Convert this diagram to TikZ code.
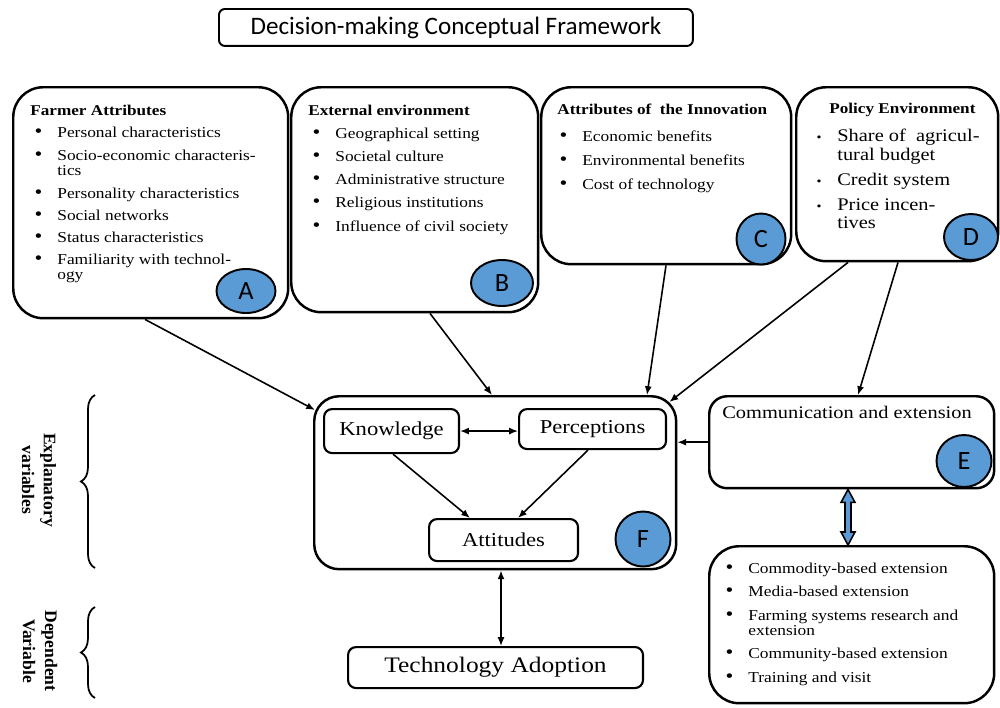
\documentclass[tikz,border=0pt]{standalone}
\usepackage{fontspec}
\setmainfont{Liberation Serif}[FakeStretch=1.15]
\newfontfamily\plainserif{Liberation Serif}
\newfontfamily\sanstitle{Carlito}
\usepackage{tikz}
\usepackage{xcolor}
\usetikzlibrary{shapes.geometric, arrows.meta, positioning, calc, decorations.pathreplacing}
\definecolor{badgeblue}{HTML}{5B9BD5}

\tikzset{
  panel/.style={draw, line width=1.4pt, rounded corners=0.6cm, inner sep=0pt, anchor=north west},
  innerbox/.style={draw, line width=1.2pt, rounded corners=0.16cm, inner sep=0pt, anchor=north west, font=\fontsize{11.2}{13}\selectfont},
  badge/.style={ellipse, draw, line width=1.1pt, fill=badgeblue, inner sep=0pt, font=\sanstitle\fontsize{15}{15}\selectfont},
  heading/.style={anchor=base west, inner sep=0pt, font=\bfseries\fontsize{8.5}{10}\selectfont},
  itemtext/.style={anchor=base west, inner sep=0pt, font=\fontsize{8.6}{10}\selectfont},
  bigitem/.style={anchor=base west, inner sep=0pt, font=\fontsize{10.1}{12}\selectfont},
  link/.style={-{Latex[length=5pt,width=4pt]}, line width=0.9pt},
  twoway/.style={{Latex[length=5pt,width=4pt]}-{Latex[length=5pt,width=4pt]}, line width=0.9pt},
  sidebrace/.style={decorate, decoration={brace, amplitude=8pt}, line width=1pt},
  sidelabel/.style={rotate=-90, align=center, font=\plainserif\bfseries\fontsize{10}{12.5}\selectfont},
}
\newcommand{\bigbul}{{\fontsize{11}{11}\selectfont\textbullet}}
\newcommand{\smallbul}{{\fontsize{7}{7}\selectfont\textbullet}}

\begin{document}
\begin{tikzpicture}[x=0.02cm, y=-0.02cm]
\useasboundingbox (0,0) rectangle (1000,707);

% Title
\node[draw, line width=1.1pt, rounded corners=0.12cm, minimum width=9.48cm, minimum height=0.74cm, anchor=north west, font=\sanstitle\fontsize{14.3}{16}\selectfont] (title) at (218,8) {Decision-making Conceptual Framework};

% Farmer attributes (A)
\node[panel, minimum width=5.5cm, minimum height=4.62cm] (farmer) at (12,86) {};
\node[heading] (farmerhead) at (30,115) {Farmer Attributes};
\foreach \yy/\bb/\txt [count=\row] in {137/\bigbul/Personal characteristics, 160/\bigbul/Socio-economic characteris-, 175//tics, 198/\bigbul/Personality characteristics, 220/\bigbul/Social networks, 242/\bigbul/Status characteristics, 264/\bigbul/Familiarity with technol-, 279//ogy}
  \node[itemtext] (farmer\row) at (57,\yy) {\llap{\bb\hspace{8.5pt}}\txt};
\node[badge, minimum width=1.18cm, minimum height=0.88cm] (badgeA) at (246,291) {A};

% External environment (B)
\node[panel, minimum width=4.94cm, minimum height=4.5cm] (extenv) at (290,86) {};
\node[heading] (extenvhead) at (308,115) {External environment};
\foreach \yy/\txt [count=\row] in {138/Geographical setting, 161/Societal culture, 184/Administrative structure, 207/Religious institutions, 231/Influence of civil society}
  \node[itemtext] (extenv\row) at (335,\yy) {\llap{\bigbul\hspace{8.5pt}}\txt};
\node[badge, minimum width=1.24cm, minimum height=0.92cm] (badgeB) at (502,283) {B};

% Attributes of the innovation (C)
\node[panel, minimum width=5cm, minimum height=3.54cm] (innov) at (540,86) {};
\node[heading] (innovhead) at (557,114) {Attributes of\ \ the Innovation};
\foreach \yy/\txt [count=\row] in {141/Economic benefits, 165/Environmental benefits, 189/Cost of technology}
  \node[itemtext] (innov\row) at (582,\yy) {\llap{\bigbul\hspace{8.5pt}}\txt};
\node[badge, minimum width=0.98cm, minimum height=1.02cm] (badgeC) at (761,239) {C};

% Policy environment (D)
\node[panel, minimum width=4.04cm, minimum height=3.48cm] (policy) at (795,86) {};
\node[heading] (policyhead) at (829,113) {Policy Environment};
\foreach \yy/\bb/\txt [count=\row] in {141/\smallbul/Share of\ \ agricul-, 160//tural budget, 185/\smallbul/Credit system, 210/\smallbul/Price incen-, 228//tives}
  \node[bigitem] (policy\row) at (837,\yy) {\llap{\bb\hspace{9pt}}\txt};
\node[badge, minimum width=1.08cm, minimum height=0.92cm] (badgeD) at (971,237) {D};

% Knowledge, perceptions, attitudes (F)
\node[panel, rounded corners=0.5cm, minimum width=7.24cm, minimum height=3.46cm] (frame) at (313,395) {};
\node[innerbox, minimum width=2.7cm, minimum height=0.88cm] (know) at (323,408) {Knowledge};
\node[innerbox, minimum width=2.94cm, minimum height=0.8cm] (percep) at (518,408) {Perceptions};
\node[innerbox, minimum width=2.98cm, minimum height=0.84cm] (att) at (428,518) {Attitudes};
\node[badge, minimum width=1.1cm, minimum height=1.1cm] (badgeF) at (643,539) {F};

% Communication and extension (E)
\node[panel, rounded corners=0.36cm, minimum width=5.7cm, minimum height=1.84cm] (comm) at (708,395) {};
\node[bigitem] (commtext) at (722,418) {Communication and extension};
\node[badge, minimum width=1.1cm, minimum height=1.04cm] (badgeE) at (964,461) {E};

% Extension approaches
\node[panel, minimum width=5.7cm, minimum height=3.14cm] (ext) at (708,545) {};
\foreach \yy/\bb/\txt [count=\row] in {573/\bigbul/Commodity-based extension, 596/\bigbul/Media-based extension, 620/\bigbul/Farming systems research and, 635//extension, 658/\bigbul/Community-based extension, 682/\bigbul/Training and visit}
  \node[itemtext] (ext\row) at (748,\yy) {\llap{\bb\hspace{8.5pt}}\txt};

% Dependent variable
\node[innerbox, minimum width=5.9cm, minimum height=0.82cm, font=\fontsize{12.6}{14}\selectfont] (tech) at (347,646) {Technology Adoption};

% Braces
\draw[sidebrace] (95,568) -- (95,395);
\node[sidelabel] (explan) at (39,480) {Explanatory\\variables};
\draw[sidebrace] (95,698) -- (95,607);
\node[sidelabel] (depend) at (40,651) {Dependent\\Variable};

% Links
\draw[link] ($(farmer.south west)+(133,0)$) -- ($(frame.north west)+(2,15)$);
\draw[link] ($(extenv.south west)+(140,0)$) -- ($(frame.north west)+(179,0)$);
\draw[link] ($(innov.south west)+(126,0)$) -- ($(frame.north west)+(334,0)$);
\draw[link] ($(policy.south west)+(53,0)$) -- ($(frame.north east)+(-8,7)$);
\draw[link] ($(policy.south west)+(103,0)$) -- ($(comm.north west)+(150,0)$);
\draw[link] (comm.west) -- (comm.west -| frame.east);
\draw[twoway] (know.east) -- (know.east -| percep.west);
\draw[link] ($(know.south west)+(70,0)$) -- ($(att.north west)+(42,0)$);
\draw[link] ($(percep.south west)+(70,0)$) -- ($(att.north west)+(90,0)$);
\draw[twoway] ($(frame.south west)+(188,0)$) -- ($(tech.north west)+(154,0)$);

% Block arrow between E and the approaches
\coordinate (dtop) at ($(comm.south west)+(140,0)$);
\coordinate (dbot) at ($(ext.north west)+(140,0)$);
\draw[line width=0.9pt, fill=badgeblue] (dtop) -- ++(7,13) -- ++(-4,0) -- ($(dbot)+(3,-13)$) -- ++(4,0) -- (dbot) -- ++(-7,-13) -- ++(4,0) -- ($(dtop)+(-3,13)$) -- ++(-4,0) -- cycle;
\end{tikzpicture}
\end{document}
